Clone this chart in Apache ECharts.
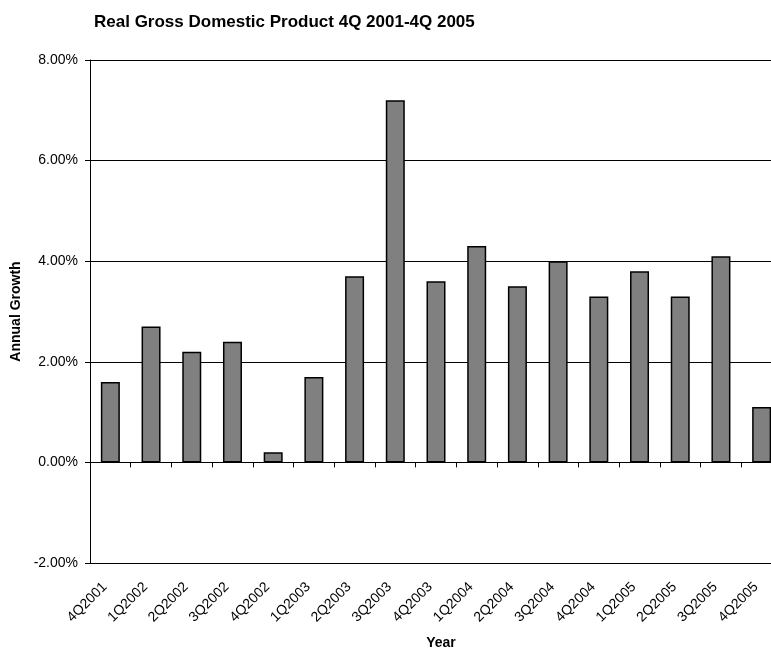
<!DOCTYPE html>
<html>
<head>
<meta charset="utf-8">
<script src="https://cdn.jsdelivr.net/npm/echarts@6/dist/echarts.min.js"></script>
<style>html,body{margin:0;padding:0;background:#fff;}#c{width:771px;height:649px;}</style>
</head>
<body>
<div id="c"></div>
<script>
var categories = ["4Q2001","1Q2002","2Q2002","3Q2002","4Q2002","1Q2003","2Q2003","3Q2003","4Q2003","1Q2004","2Q2004","3Q2004","4Q2004","1Q2005","2Q2005","3Q2005","4Q2005"];
var growth = [1.6, 2.7, 2.2, 2.4, 0.2, 1.7, 3.7, 7.2, 3.6, 4.3, 3.5, 4.0, 3.3, 3.8, 3.3, 4.1, 1.1];
var chartTitle = "Real Gross Domestic Product 4Q 2001-4Q 2005";
var xName = "Year";
var yName = "Annual Growth";

var chart = echarts.init(document.getElementById('c'), null, {renderer: 'canvas'});
var font = 'Liberation Sans, Arial, sans-serif';
chart.setOption({
  animation: false,
  backgroundColor: '#fff',
  title: [
    {text: chartTitle, left: 89, top: 9, textStyle: {fontFamily: font, fontSize: 17, fontWeight: 'bold', color: '#000'}},
    {text: xName, left: 436, top: 631, textAlign: 'center', textStyle: {fontFamily: font, fontSize: 14, fontWeight: 'bold', color: '#000'}}
  ],
  grid: {left: 90, top: 60, right: -11, bottom: 86, containLabel: false, outerBoundsMode: 'none'},
  xAxis: {
    type: 'category',
    data: categories,
    axisLine: {onZero: true, lineStyle: {color: '#000', width: 1}},
    axisTick: {show: true, length: 5, lineStyle: {color: '#000'}},
    axisLabel: {rotate: 45, interval: 0, margin: 16, padding: [0, 8, 0, 0], fontFamily: font, fontSize: 14, color: '#000'},
    splitLine: {show: false}
  },
  yAxis: {
    type: 'value',
    min: -2, max: 8, interval: 2,
    name: yName, nameLocation: 'middle', nameRotate: 90, nameGap: 64,
    nameTextStyle: {fontFamily: font, fontSize: 14, fontWeight: 'bold', color: '#000'},
    axisLine: {show: true, lineStyle: {color: '#000', width: 1}},
    axisTick: {show: true, length: 5, lineStyle: {color: '#000'}},
    axisLabel: {fontFamily: font, fontSize: 14, color: '#000', margin: 12,
      formatter: function (v) { return v.toFixed(2) + '%'; }},
    splitLine: {show: true, lineStyle: {color: '#000', width: 1}}
  },
  series: [{
    type: 'bar',
    data: growth,
    barWidth: 19,
    itemStyle: {color: '#808080', borderColor: '#000', borderWidth: 1.5}
  }]
});
</script>
</body>
</html>
